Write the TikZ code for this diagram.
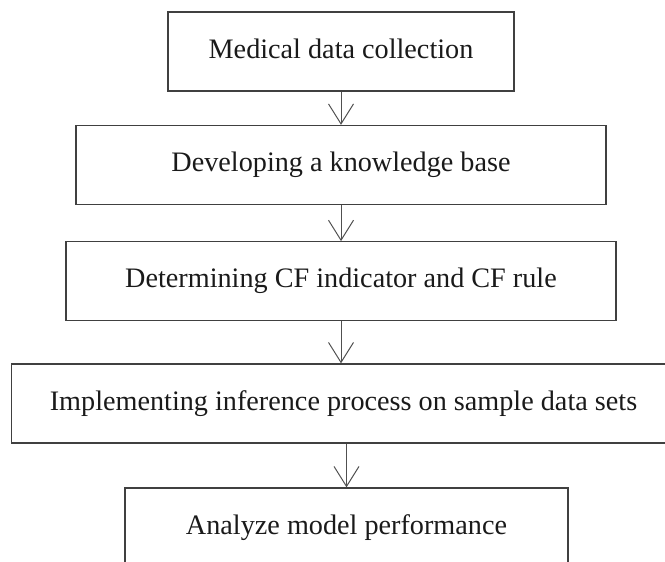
\documentclass[tikz,border=0pt]{standalone}
\usepackage{fontspec}
\setmainfont{Liberation Serif}
\usepackage{tikz}
\usetikzlibrary{arrows.meta}

\definecolor{boxline}{HTML}{404040}
\definecolor{arrowline}{HTML}{505050}
\definecolor{stepfont}{HTML}{1A1A1A}

\begin{document}
\begin{tikzpicture}[x=0.5pt,y=-0.5pt,
	stepbox/.style={draw=boxline, line width=0.65pt, text=stepfont,
		font=\fontsize{14.1}{17}\selectfont, text height=0.66em, text depth=0pt,
		inner ysep=0pt, minimum height=39.5pt},
	flow/.style={draw=arrowline, line width=0.5pt,
		-{Straight Barb[length=10pt,width=12.5pt,line width=0.5pt]}}]

	%Frame of the picture (the page cuts the lower boxes)
	\useasboundingbox (0,0) rectangle (665,562);
	\clip (0,0) rectangle (665,562);

	%The steps
	\node [stepbox, minimum width=173pt](b1) at (341,51.5) {Medical data collection};
	\node [stepbox, minimum width=265pt](b2) at (341,165) {Developing a knowledge base};
	\node [stepbox, minimum width=275pt](b3) at (341,281.3) {Determining CF indicator and CF rule};
	\node [stepbox, minimum width=332pt](b4) at (343.5,403.5) {Implementing inference process on sample data sets};
	\node [stepbox, minimum width=221.5pt](b5) at (346.5,527.5) {Analyze model performance};

	%Arrows between the steps
	\draw [flow] (b1) -- (b2);
	\draw [flow] (b2) -- (b3);
	\draw [flow] (b3.south) -- (b3.south |- b4.north);
	\draw [flow] (b5.north |- b4.south) -- (b5.north);

\end{tikzpicture}
\end{document}
